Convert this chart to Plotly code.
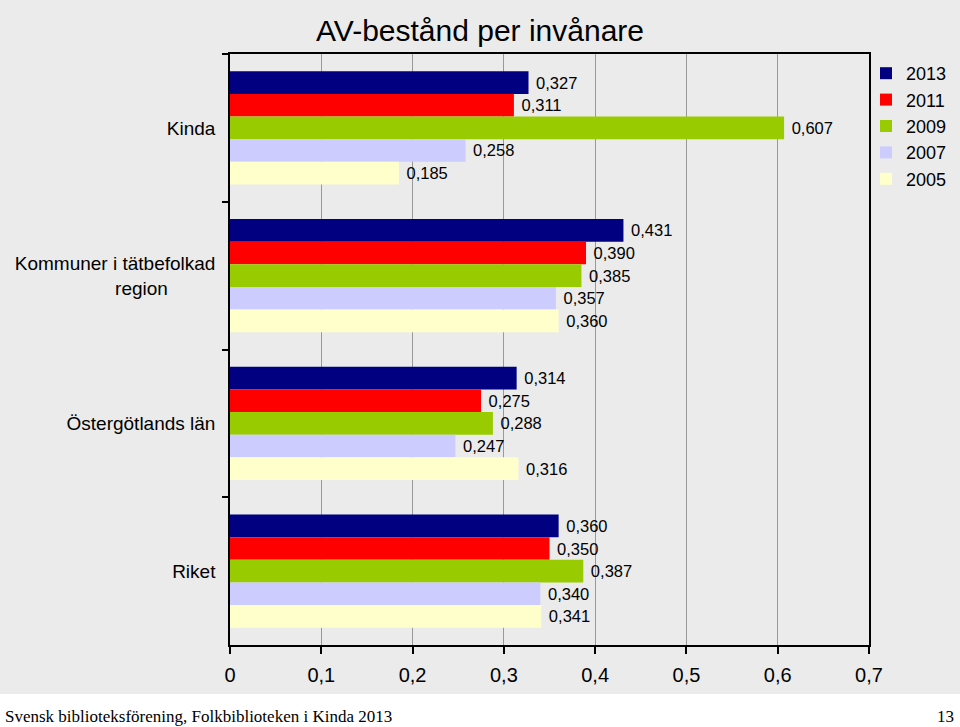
import plotly.graph_objects as go

categories = ["Kinda", "Kommuner i tätbefolkad<br>region" + "\u00a0" * 9, "Östergötlands län", "Riket"]
years = ["2013", "2011", "2009", "2007", "2005"]
values_2013 = [0.327, 0.431, 0.314, 0.360]
values_2011 = [0.311, 0.390, 0.275, 0.350]
values_2009 = [0.607, 0.385, 0.288, 0.387]
values_2007 = [0.258, 0.357, 0.247, 0.340]
values_2005 = [0.185, 0.360, 0.316, 0.341]
series = [values_2013, values_2011, values_2009, values_2007, values_2005]
colors = ["#000080", "#ff0000", "#99cc00", "#ccccff", "#ffffcc"]
x_ticks = [0, 0.1, 0.2, 0.3, 0.4, 0.5, 0.6, 0.7]

W, H = 960, 727
L, R, T, B = 230, 91, 54, 82
pw, ph = W - L - R, H - T - B

def px_x(x):
    return (x - L) / pw

def px_y(y):
    return (H - B - y) / ph

fig = go.Figure()
for yr, vals, col in zip(years, series, colors):
    fig.add_trace(go.Bar(
        y=categories, x=vals, name=yr, orientation="h",
        marker=dict(color=col, line=dict(width=0)),
        text=["\u00a0" + f"{v:.3f}".replace(".", ",") for v in vals],
        textposition="outside", cliponaxis=False, constraintext="none",
        textfont=dict(family="Liberation Sans, Arial", size=16.5, color="#000"),
    ))

fig.update_layout(
    width=W, height=H,
    margin=dict(l=L, r=R, t=T, b=B, autoexpand=False),
    barmode="group", bargap=0.235, bargroupgap=0,
    separators=", ",
    paper_bgcolor="#ffffff",
    plot_bgcolor="#eeeeee",
    font=dict(family="Liberation Sans, Arial", color="#000"),
    title=dict(text="AV-bestånd per invånare", x=0.5, xanchor="center",
               y=1 - 30 / H, yanchor="middle", font=dict(size=30, color="#000")),
    legend=dict(x=px_x(866), y=px_y(55), xanchor="left", yanchor="top",
                bgcolor="rgba(0,0,0,0)", font=dict(size=18), traceorder="normal",
                itemwidth=30, tracegroupgap=0),
    xaxis=dict(range=[0, 0.7], tickvals=x_ticks, ticks="outside", ticklen=7,
               tickcolor="#000", tickwidth=1.5, showline=True, linecolor="#000", linewidth=1.5,
               mirror=True, showgrid=True, gridcolor="#999999", gridwidth=1.2,
               zeroline=False, tickfont=dict(size=20), tickformat="~r",
               ticklabelstandoff=4),
    yaxis=dict(autorange="reversed", ticks="outside", ticklen=6, tickcolor="#000",
               tickwidth=1.5, tickson="boundaries", showline=True, linecolor="#000",
               linewidth=1.5, mirror=True, showgrid=False, tickfont=dict(size=19),
               ticklabelstandoff=9),
    shapes=[
        dict(type="rect", xref="paper", yref="paper", layer="below",
             x0=px_x(0), x1=px_x(W), y0=px_y(694), y1=px_y(0),
             fillcolor="#ebebeb", line=dict(width=0)),
    ],
    annotations=[
        dict(text="Svensk biblioteksförening, Folkbiblioteken i Kinda 2013",
             xref="paper", yref="paper", x=px_x(3), y=px_y(716),
             xanchor="left", yanchor="middle", showarrow=False,
             font=dict(family="Liberation Serif, Times New Roman", size=17, color="#000")),
        dict(text="13", xref="paper", yref="paper", x=px_x(956), y=px_y(716),
             xanchor="right", yanchor="middle", showarrow=False,
             font=dict(family="Liberation Serif, Times New Roman", size=17, color="#000")),
    ],
)

fig.write_html("out.html", config={"displayModeBar": False},
               post_script="document.body.style.margin='0';document.body.style.overflow='hidden';")
